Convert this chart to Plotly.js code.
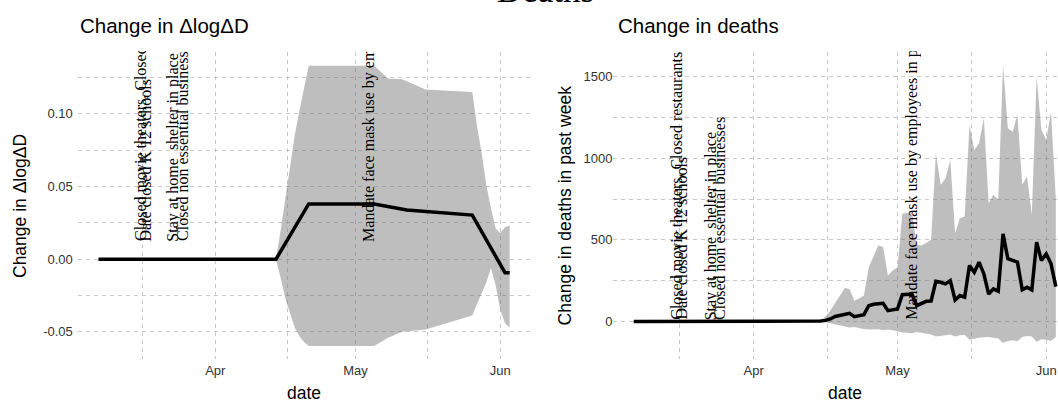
<!DOCTYPE html>
<html>
<head>
<meta charset="utf-8">
<script src="https://cdn.plot.ly/plotly-3.0.1.min.js"></script>
<style>
  html, body { margin: 0; padding: 0; background: #fff; }
  /* the right panel runs past the window edge in the original, so the figure is wider than the frame */
  #frame { width: 1058px; height: 401px; overflow: hidden; position: relative; }
  #chart { width: 1080px; height: 401px; }
</style>
</head>
<body>
<div id="frame"><div id="chart"></div></div>
<script>
(function () {

  // ── data ───────────────────────────────────────────────────────────────────

  const policyDates  = ['2020-03-16', '2020-03-17', '2020-03-23', '2020-03-25', '2020-05-04'];
  const policyLabels = [
    'Closed movie theaters, Closed restaurants',
    'Date closed K 12 schools',
    'Stay at home\u00a0 shelter in place',
    'Closed non essential businesses',
    'Mandate face mask use by employees in public facing businesses',
  ];

  // left panel: change in ΔlogΔD
  const dlogDates  = ['2020-03-07', '2020-04-14', '2020-04-21', '2020-04-28', '2020-05-05',
                      '2020-05-12', '2020-05-19', '2020-05-26', '2020-06-02', '2020-06-03'];
  const dlogChange = [0, 0, 0.038, 0.038, 0.038, 0.0338, 0.0322, 0.0303, -0.0093, -0.0093];

  const dlogBandDates = ['2020-03-07', '2020-04-14', '2020-04-15', '2020-04-16', '2020-04-17',
                         '2020-04-18', '2020-04-19', '2020-04-20', '2020-04-21', '2020-05-05',
                         '2020-05-08', '2020-05-11', '2020-05-16', '2020-05-26', '2020-05-27',
                         '2020-05-28', '2020-05-29', '2020-05-30', '2020-05-31', '2020-06-01',
                         '2020-06-02', '2020-06-03'];
  const dlogUpper = [0, 0, 0.020, 0.042, 0.063, 0.085, 0.102, 0.118, 0.133, 0.133,
                     0.1243, 0.1237, 0.1166, 0.115, 0.092, 0.073, 0.051, 0.035, 0.021, 0.018,
                     0.022, 0.023];
  const dlogLower = [0, 0, -0.013, -0.027, -0.037, -0.047, -0.053, -0.057, -0.0597, -0.0597,
                     -0.054, -0.050, -0.0483, -0.0387, -0.031, -0.024, -0.016, -0.006, -0.018, -0.035,
                     -0.044, -0.047];

  // right panel: change in deaths in past week, one value per day from 7 Mar
  const deathsStart  = '2020-03-07';
  const deathsChange = [
    0, 0, 0, 0, 0, 0, 0, 0, 0, 0, 0, 0, 0, 0, 0, 0, 0, 0, 0, 0, 0, 0, 0, 0, 0,           // Mar 7-31
    0, 0, 0, 0, 0, 0, 0, 0, 0, 0, 0, 0, 0, 0, 2, 6, 15, 30, 36, 42,                      // Apr 1-20
    49, 29, 35, 41, 96, 105, 108, 111, 66, 72,                                          // Apr 21-30
    76, 164, 166, 168, 97, 110, 123, 125, 246, 240, 230, 250, 131, 158, 148, 343,        // May 1-16
    301, 363, 291, 168, 199, 185, 537, 384, 375, 363, 193, 209, 193, 486, 373,           // May 17-31
    414, 353, 213,                                                                      // Jun 1-3
  ];
  const deathsUpper = [
    0, 0, 0, 0, 0, 0, 0, 0, 0, 0, 0, 0, 0, 0, 0, 0, 0, 0, 0, 0, 0, 0, 0, 0, 0,
    0, 0, 0, 0, 0, 0, 0, 0, 0, 0, 0, 0, 0, 0, 5, 30, 66, 110, 158, 205,
    199, 127, 140, 158, 332, 404, 466, 455, 281, 312,
    330, 660, 665, 670, 470, 465, 480, 500, 1029, 837, 876, 990, 541, 633, 643, 1204,
    1051, 1092, 1245, 725, 776, 745, 1572, 1184, 1163, 1266, 837, 888, 653, 1500, 1174,
    1112, 1286, 750,
  ];
  const deathsLower = [
    0, 0, 0, 0, 0, 0, 0, 0, 0, 0, 0, 0, 0, 0, 0, 0, 0, 0, 0, 0, 0, 0, 0, 0, 0,
    0, 0, 0, 0, 0, 0, 0, 0, 0, 0, 0, 0, 0, 0, -2, -6, -12, -20, -27, -32,
    -37, -35, -42, -46, -50, -50, -48, -55, -50, -55,
    -62, -68, -70, -72, -65, -70, -76, -80, -92, -90, -85, -80, -92, -85, -82, -112,
    -105, -100, -98, -95, -100, -105, -132, -120, -115, -122, -95, -90, -92, -125, -110,
    -112, -120, -95,
  ];

  const dlogTickVals  = [-0.05, 0, 0.05, 0.10];
  const dlogTickText  = ['-0.05', '0.00', '0.05', '0.10'];

  // ── look ───────────────────────────────────────────────────────────────────

  const W = 1080, H = 401;
  const SANS  = '"Liberation Sans", Arial, sans-serif';
  const SERIF = '"Liberation Serif", "Times New Roman", serif';
  const BAND  = 'rgba(110,110,110,0.45)';
  const GRID  = '#c9c9c9';
  const DASH  = '4px,4px';
  const TICK  = { family: SANS, size: 13, color: '#333' };

  const X_RANGE    = ['2020-03-02 14:00', '2020-06-07 10:00'];
  const Y1_RANGE   = [-0.0686, 0.1422];
  const Y2_RANGE   = [-230, 1649];
  const PLOT_TOP   = 52.4, PLOT_BOTTOM = 358.9;
  const LEFT_DOM   = [77.8 / W, 530.3 / W];
  const RIGHT_DOM  = [612.5 / W, 1077 / W];
  const Y_DOM      = [(H - PLOT_BOTTOM) / H, (H - PLOT_TOP) / H];

  // ── helpers ────────────────────────────────────────────────────────────────

  function dailyDates(start, n) {
    const t0 = Date.parse(start + 'T00:00:00Z');
    const out = [];
    for (let i = 0; i < n; i++) out.push(new Date(t0 + i * 864e5).toISOString().slice(0, 10));
    return out;
  }

  function band(x, lo, hi, xa, ya) {
    const base = { x, xaxis: xa, yaxis: ya, type: 'scatter', mode: 'lines',
                   line: { width: 0 }, hoverinfo: 'skip', showlegend: false };
    return [
      Object.assign({}, base, { y: lo }),
      Object.assign({}, base, { y: hi, fill: 'tonexty', fillcolor: BAND }),
    ];
  }

  function line(x, y, xa, ya) {
    return { x, y, xaxis: xa, yaxis: ya, type: 'scatter', mode: 'lines',
             line: { color: '#000', width: 3.5 }, hoverinfo: 'skip', showlegend: false };
  }

  function xAxis(domain, anchor) {
    return {
      domain, anchor, type: 'date', range: X_RANGE,
      dtick: 'M1', tick0: '2020-03-01', tickformat: '%b',
      showgrid: true, gridcolor: GRID, gridwidth: 1, griddash: DASH,
      minor: { dtick: 'M1', tick0: '2020-03-16 12:00', showgrid: true,
               gridcolor: GRID, gridwidth: 1, griddash: DASH },
      zeroline: false, showline: false, ticks: '',
      ticklabelstandoff: 2,
      tickfont: TICK,
      fixedrange: true,
    };
  }

  function yAxis(range, anchor, extra) {
    return Object.assign({
      domain: Y_DOM, anchor, range,
      showgrid: true, gridcolor: GRID, gridwidth: 1, griddash: DASH,
      zeroline: false, showline: false, ticks: '',
      tickfont: TICK,
      fixedrange: true,
    }, extra);
  }

  // pixel length from a label's start value up to the top of the panel,
  // used to clip the rotated policy labels at the panel edge like the original
  function clipLength(range, v) {
    return (range[1] - v) / (range[1] - range[0]) * (PLOT_BOTTOM - PLOT_TOP);
  }

  function policyNotes(xref, yref, yStart, range) {
    const len = clipLength(range, yStart);
    return policyDates.map(function (d, i) {
      return {
        xref, yref, x: d, y: yStart,
        text: policyLabels[i], textangle: -90,
        xanchor: 'center', yanchor: 'bottom',
        width: len, align: 'left', borderpad: 0,
        showarrow: false,
        font: { family: SERIF, size: 16, color: '#000' },
      };
    });
  }

  function paperText(text, x, y, size, opts) {
    return Object.assign({
      xref: 'paper', yref: 'paper', x, y, text, showarrow: false,
      xanchor: 'center', yanchor: 'middle',
      font: { family: SANS, size, color: '#000' },
    }, opts || {});
  }

  // ── build ──────────────────────────────────────────────────────────────────

  const deathsDates = dailyDates(deathsStart, deathsChange.length);

  const traces = []
    .concat(band(dlogBandDates, dlogLower, dlogUpper, 'x', 'y'))
    .concat([line(dlogDates, dlogChange, 'x', 'y')])
    .concat(band(deathsDates, deathsLower, deathsUpper, 'x2', 'y2'))
    .concat([line(deathsDates, deathsChange, 'x2', 'y2')]);

  const annotations = []
    .concat(policyNotes('x', 'y', 0.0115, Y1_RANGE))
    .concat(policyNotes('x2', 'y2', 3, Y2_RANGE))
    .concat([
      paperText('Deaths', 545.5 / W, (H - 12) / H, 35,
                { yanchor: 'bottom', font: { family: SERIF, size: 35, color: '#000' } }),
      paperText('Change in \u0394log\u0394D', LEFT_DOM[0], (H - 25.5) / H, 20.5, { xanchor: 'left' }),
      paperText('Change in deaths', 615.5 / W, (H - 25.5) / H, 20.5, { xanchor: 'left' }),
      paperText('date', 304 / W, (H - 392.7) / H, 17.5),
      paperText('date', 845 / W, (H - 392.7) / H, 17.5),
      paperText('Change in \u0394log\u0394D', 20 / W, (H - 206) / H, 17.5, { textangle: -90 }),
      paperText('Change in deaths in past week', 565.4 / W, (H - 205) / H, 17.5, { textangle: -90 }),
    ]);

  const layout = {
    width: W, height: H,
    margin: { l: 0, r: 0, t: 0, b: 0, pad: 0 },
    paper_bgcolor: '#fff', plot_bgcolor: '#fff',
    font: { family: SANS },
    showlegend: false,
    xaxis:  xAxis(LEFT_DOM, 'y'),
    yaxis:  yAxis(Y1_RANGE, 'x', { tickvals: dlogTickVals, ticktext: dlogTickText, ticklabelstandoff: 4,
                                   minor: { dtick: 0.025, tick0: 0, showgrid: true,
                                            gridcolor: GRID, gridwidth: 1, griddash: DASH } }),
    xaxis2: xAxis(RIGHT_DOM, 'y2'),
    yaxis2: yAxis(Y2_RANGE, 'x2', { dtick: 500, tick0: 0, ticklabelstandoff: -1,
                                    minor: { dtick: 250, tick0: 0, showgrid: true,
                                             gridcolor: GRID, gridwidth: 1, griddash: DASH } }),
    annotations,
  };

  Plotly.newPlot('chart', traces, layout, { displayModeBar: false, staticPlot: true });

}());
</script>
</body>
</html>
